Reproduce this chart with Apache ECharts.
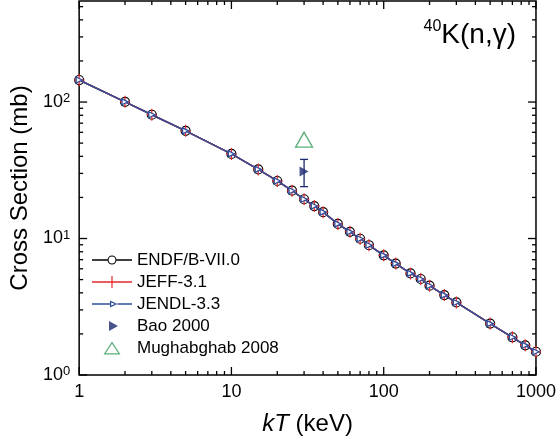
<!DOCTYPE html>
<html><head><meta charset="utf-8">
<script src="https://cdn.jsdelivr.net/npm/echarts@6/dist/echarts.min.js"></script>
<style>html,body{margin:0;padding:0;background:#fff}#c{width:559px;height:444px}</style>
</head><body><div id="c"></div>
<script>
// ---- data ----
const kT = [1,2,3,5,10,15,20,25,30,35,40,50,60,70,80,100,120,150,175,200,250,300,500,700,850,1000];
const endf  = [145,100.4,80.7,61.5,41.7,32.1,26.4,22.4,19.4,17.3,15.6,12.8,11.2,9.96,8.93,7.53,6.55,5.55,5.05,4.51,3.85,3.40,2.38,1.89,1.65,1.48];
const jeff  = [145,100.4,80.7,61.5,41.7,32.1,26.4,22.4,19.4,17.3,15.6,12.8,11.2,9.96,8.93,7.53,6.55,5.55,5.05,4.51,3.85,3.40,2.38,1.89,1.65,1.48];
const jendl = [145,100.4,80.7,61.5,41.7,32.1,26.4,22.4,19.4,17.3,15.6,12.8,11.2,9.96,8.93,7.53,6.55,5.55,5.05,4.51,3.85,3.40,2.38,1.89,1.65,1.48];
const baoX = [30], baoY = [31], baoLo = [24], baoHi = [38];
const mughX = [30], mughY = [53];
const xMajor = [1,10,100,1000];
const xMinor = [2,3,4,5,6,7,8,9,20,30,40,50,60,70,80,90,200,300,400,500,600,700,800,900];
const yMajor = [1,10,100];
const yMinor = [2,3,4,5,6,7,8,9,20,30,40,50,60,70,80,90,200,300,400,500];
const X_MIN = 1, X_MAX = 1000, Y_MIN = 1, Y_MAX = 550;
const names = ['ENDF/B-VII.0','JEFF-3.1','JENDL-3.3','Bao 2000','Mughabghab 2008'];

const FONT = 'Liberation Sans, Arial, sans-serif';
const RED = '#e8282c', BLUE = '#2f4f9f', NAVY = '#1c2870', GREEN = '#2f9a52';
const TRI_R = 'path://M0,0 L10,5 L0,10 Z';
const PLUS = 'path://M4.4,0 L5.6,0 L5.6,4.4 L10,4.4 L10,5.6 L5.6,5.6 L5.6,10 L4.4,10 L4.4,5.6 L0,5.6 L0,4.4 L4.4,4.4 Z';

// legend icons drawn in a 40x14 box (corner points fix the box)
const BOX = 'M0,0 L0,0 Z M40,14 L40,14 Z ';
const ICON_ENDF = 'path://' + BOX +
  'M0,6.25 L15.5,6.25 L15.5,7.75 L0,7.75 Z M24.5,6.25 L40,6.25 L40,7.75 L24.5,7.75 Z ' +
  'M15.5,7 A4.5,4.5 0 1,0 24.5,7 A4.5,4.5 0 1,0 15.5,7 Z M16.6,7 A3.4,3.4 0 1,1 23.4,7 A3.4,3.4 0 1,1 16.6,7 Z';
const ICON_JEFF = 'path://' + BOX +
  'M0,6.3 L40,6.3 L40,7.7 L0,7.7 Z M19.4,1 L20.6,1 L20.6,13 L19.4,13 Z';
const ICON_JENDL = 'path://' + BOX +
  'M0,6.3 L18,6.3 L18,7.7 L0,7.7 Z M25.5,6.3 L40,6.3 L40,7.7 L25.5,7.7 Z ' +
  'M18,3.5 L25.5,7 L18,10.5 Z M19.2,5.4 L19.2,8.6 L22.8,7 Z';
const ICON_BAO = 'path://' + BOX + 'M17,2 L26,7 L17,12 Z';
const ICON_MUGH = 'path://' + BOX +
  'M20,0.5 L28.5,13.5 L11.5,13.5 Z M20,2.7 L13.72,12.3 L26.28,12.3 Z';

const zip = (a, b) => a.map((v, i) => [v, b[i]]);
const isPow = v => { const e = Math.log10(v); return Math.abs(e - Math.round(e)) < 1e-6; };

const xTickData = xMajor.map(v => [v, Y_MIN, 1]).concat(xMinor.map(v => [v, Y_MIN, 0]));
const yTickData = yMajor.map(v => [X_MIN, v, 1]).concat(yMinor.map(v => [X_MIN, v, 0]));

const chart = echarts.init(document.getElementById('c'), null, {renderer: 'canvas'});
chart.setOption({
  animation: false,
  backgroundColor: '#fff',
  grid: {left: 77, right: 19, top: 1, bottom: 69, show: true, borderColor: '#000', borderWidth: 1.5, backgroundColor: 'transparent'},
  xAxis: {
    type: 'log', logBase: 10, min: X_MIN, max: X_MAX,
    axisLine: {show: false}, axisTick: {show: false}, splitLine: {show: false},
    axisLabel: {margin: 8, color: '#000', fontSize: 18, fontFamily: FONT,
      formatter: v => isPow(v) ? String(Math.round(v)) : ''},
    name: '{i|kT} (keV)', nameLocation: 'middle', nameGap: 37,
    nameTextStyle: {color: '#000', fontSize: 24, fontFamily: FONT,
      rich: {i: {fontStyle: 'italic', fontSize: 24, fontFamily: FONT, color: '#000'}}}
  },
  yAxis: {
    type: 'log', logBase: 10, min: Y_MIN, max: Y_MAX,
    axisLine: {show: false}, axisTick: {show: false}, splitLine: {show: false},
    axisLabel: {margin: 9, color: '#000', fontFamily: FONT,
      formatter: v => isPow(v) ? '{b|10}{s|' + Math.round(Math.log10(v)) + '}' : '',
      rich: {b: {fontSize: 18, fontFamily: FONT, color: '#000', lineHeight: 20},
             s: {fontSize: 13, fontFamily: FONT, color: '#000', verticalAlign: 'top', lineHeight: 20}}},
    name: 'Cross Section (mb)', nameLocation: 'middle', nameGap: 42,
    nameTextStyle: {color: '#000', fontSize: 24, fontFamily: FONT}
  },
  legend: {
    orient: 'vertical', left: 92, top: 249, padding: 0, itemWidth: 40, itemHeight: 14, itemGap: 0,
    data: [
      {name: names[0], icon: ICON_ENDF, itemStyle: {color: '#000', borderWidth: 0}},
      {name: names[1], icon: ICON_JEFF, itemStyle: {color: RED, borderWidth: 0}},
      {name: names[2], icon: ICON_JENDL, itemStyle: {color: BLUE, borderWidth: 0}},
      {name: names[3], icon: ICON_BAO, itemStyle: {color: NAVY, borderWidth: 0}},
      {name: names[4], icon: ICON_MUGH, itemStyle: {color: GREEN, borderWidth: 0}}
    ],
    textStyle: {color: '#000', fontSize: 17, fontFamily: FONT, lineHeight: 22},
    selectedMode: false
  },
  graphic: [{
    type: 'text', right: 43, top: 19,
    style: {text: '{s|40}{b|K(n,γ)}', fill: '#000',
      rich: {s: {fontSize: 16, fontFamily: FONT, fill: '#000', verticalAlign: 'top', lineHeight: 32},
             b: {fontSize: 28, fontFamily: FONT, fill: '#000', lineHeight: 32}}}
  }],
  series: [
    {type: 'custom', name: 'xticks', silent: true, clip: false, z: 5, data: xTickData, encode: {x: 0, y: 1},
      renderItem: (params, api) => {
        const x = api.value(0), len = api.value(2) ? 8 : 4;
        const b = api.coord([x, Y_MIN]), t = api.coord([x, Y_MAX]);
        const st = {stroke: '#000', lineWidth: 1.3};
        return {type: 'group', children: [
          {type: 'line', shape: {x1: b[0], y1: b[1], x2: b[0], y2: b[1] - len}, style: st},
          {type: 'line', shape: {x1: t[0], y1: t[1], x2: t[0], y2: t[1] + len}, style: st}]};
      }},
    {type: 'custom', name: 'yticks', silent: true, clip: false, z: 5, data: yTickData, encode: {x: 0, y: 1},
      renderItem: (params, api) => {
        const y = api.value(1), len = api.value(2) ? 8 : 4;
        const l = api.coord([X_MIN, y]), r = api.coord([X_MAX, y]);
        const st = {stroke: '#000', lineWidth: 1.3};
        return {type: 'group', children: [
          {type: 'line', shape: {x1: l[0], y1: l[1], x2: l[0] + len, y2: l[1]}, style: st},
          {type: 'line', shape: {x1: r[0], y1: r[1], x2: r[0] - len, y2: r[1]}, style: st}]};
      }},
    {type: 'line', name: names[0], data: zip(kT, endf), symbol: 'circle', symbolSize: 9,
      lineStyle: {color: '#000', width: 1.5}, itemStyle: {color: '#fff', borderColor: '#000', borderWidth: 1.2}, z: 2},
    {type: 'line', name: names[1], data: zip(kT, jeff), symbol: PLUS, symbolSize: [10, 12],
      lineStyle: {color: RED, width: 1.5}, itemStyle: {color: RED}, z: 3},
    {type: 'line', name: names[2], data: zip(kT, jendl), symbol: TRI_R, symbolSize: 6,
      lineStyle: {color: BLUE, width: 1.5}, itemStyle: {color: '#fff', borderColor: BLUE, borderWidth: 1.3}, z: 4},
    {type: 'custom', name: 'baoerr', silent: true, clip: false, z: 4,
      data: baoX.map((x, i) => [x, baoLo[i], baoHi[i]]), encode: {x: 0, y: [1, 2]},
      renderItem: (params, api) => {
        const x = api.value(0);
        const lo = api.coord([x, api.value(1)]), hi = api.coord([x, api.value(2)]);
        const st = {stroke: NAVY, lineWidth: 1.3};
        return {type: 'group', children: [
          {type: 'line', shape: {x1: lo[0], y1: lo[1], x2: hi[0], y2: hi[1]}, style: st},
          {type: 'line', shape: {x1: lo[0] - 4, y1: lo[1], x2: lo[0] + 4, y2: lo[1]}, style: st},
          {type: 'line', shape: {x1: hi[0] - 4, y1: hi[1], x2: hi[0] + 4, y2: hi[1]}, style: st}]};
      }},
    {type: 'scatter', name: names[3], data: zip(baoX, baoY), symbol: TRI_R, symbolSize: [9, 10],
      itemStyle: {color: NAVY}, z: 5},
    {type: 'scatter', name: names[4], data: zip(mughX, mughY), symbol: 'triangle', symbolSize: [17, 15],
      itemStyle: {color: '#fff', borderColor: GREEN, borderWidth: 1.3}, z: 5}
  ]
});
</script></body></html>
